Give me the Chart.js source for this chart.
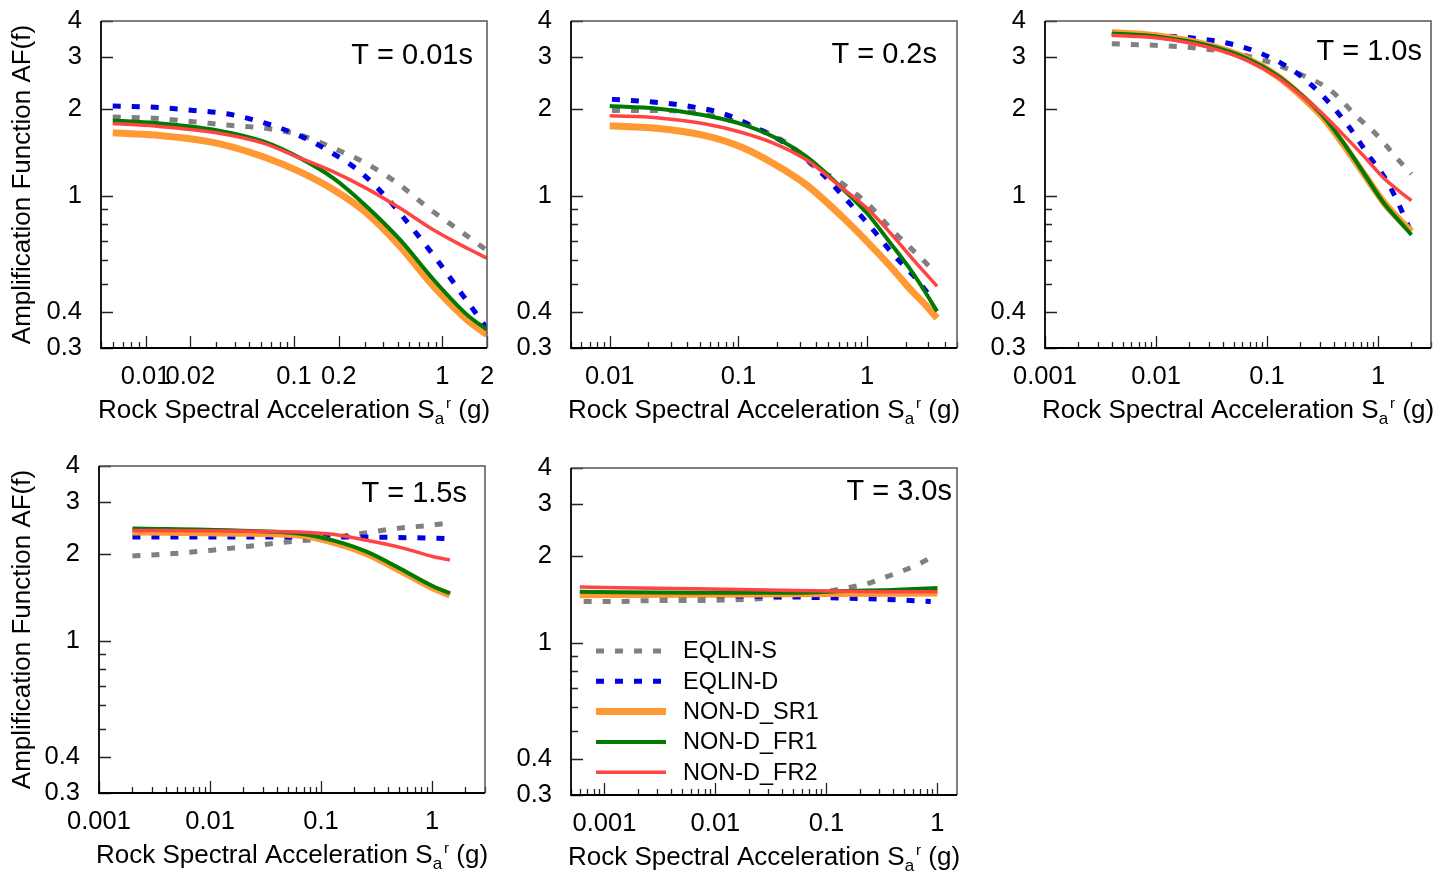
<!DOCTYPE html>
<html>
<head>
<meta charset="utf-8">
<title>Amplification functions</title>
<script src="https://cdn.jsdelivr.net/npm/chart.js@4.4.1/dist/chart.umd.min.js"></script>
<style>
  body { margin: 0; background: #fff; }
  canvas { position: absolute; }
</style>
</head>
<body>
<canvas id="p1" width="500" height="430" style="left:0;top:0"></canvas>
<canvas id="p2" width="470" height="430" style="left:500px;top:0"></canvas>
<canvas id="p3" width="483" height="430" style="left:970px;top:0"></canvas>
<canvas id="p4" width="500" height="437" style="left:0;top:440px"></canvas>
<canvas id="p5" width="470" height="437" style="left:500px;top:440px"></canvas>
<script>
// Series and tick labels
const SERIES_NAMES = ['EQLIN-S', 'EQLIN-D', 'NON-D_SR1', 'NON-D_FR1', 'NON-D_FR2'];
const Y_LABELS = [0.3, 0.4, 1, 2, 3, 4];
const X_LABELS_T001 = [0.01, 0.02, 0.1, 0.2, 1, 2];
const X_LABELS_T02 = [0.01, 0.1, 1];
const X_LABELS_LONG = [0.001, 0.01, 0.1, 1];

// [Sa rock (g), AF] pairs per period
const T001_EQLIN_S = [[0.006,1.87],[0.0116,1.85],[0.021,1.80],[0.037,1.75],[0.065,1.71],[0.11,1.62],[0.185,1.46],[0.31,1.29],[0.5,1.105],[0.81,0.907],[1.29,0.764],[2.0,0.65]];
const T001_EQLIN_D = [[0.006,2.04],[0.0116,2.02],[0.021,1.97],[0.037,1.91],[0.064,1.78],[0.11,1.61],[0.175,1.42],[0.28,1.21],[0.435,0.969],[0.64,0.764],[0.92,0.603],[1.29,0.476],[2.0,0.35]];
const T001_SR1 = [[0.006,1.65],[0.0116,1.62],[0.03,1.52],[0.062,1.364],[0.11,1.21],[0.185,1.05],[0.31,0.872],[0.52,0.67],[0.874,0.489],[1.47,0.375],[2.0,0.333]];
const T001_FR1 = [[0.006,1.82],[0.0116,1.785],[0.03,1.685],[0.062,1.54],[0.11,1.35],[0.185,1.15],[0.31,0.919],[0.52,0.706],[0.874,0.515],[1.47,0.39],[2.0,0.347]];
const T001_FR2 = [[0.006,1.775],[0.0116,1.74],[0.03,1.65],[0.062,1.52],[0.11,1.35],[0.185,1.21],[0.31,1.06],[0.52,0.907],[0.874,0.764],[1.47,0.661],[2.0,0.611]];

const T02_EQLIN_S = [[0.0104,1.97],[0.0205,1.97],[0.04,1.95],[0.0765,1.85],[0.139,1.71],[0.25,1.50],[0.4,1.25],[0.584,1.135],[1.0,0.944],[1.61,0.754],[2.68,0.606],[3.4,0.543]];
const T02_EQLIN_D = [[0.0104,2.15],[0.0205,2.11],[0.04,2.04],[0.0765,1.92],[0.139,1.71],[0.253,1.48],[0.407,1.245],[0.658,0.995],[1.06,0.785],[1.61,0.627],[2.45,0.515],[3.3,0.435]];
const T02_SR1 = [[0.01,1.744],[0.023,1.71],[0.053,1.62],[0.103,1.48],[0.187,1.294],[0.34,1.09],[0.62,0.86],[1.0,0.697],[1.52,0.572],[2.18,0.476],[2.76,0.428],[3.5,0.38]];
const T02_FR1 = [[0.01,2.04],[0.023,2.0],[0.053,1.90],[0.103,1.775],[0.187,1.60],[0.34,1.364],[0.62,1.077],[1.0,0.872],[1.52,0.688],[2.18,0.557],[2.76,0.476],[3.5,0.401]];
const T02_FR2 = [[0.01,1.887],[0.023,1.86],[0.053,1.775],[0.103,1.66],[0.187,1.52],[0.34,1.33],[0.62,1.077],[1.0,0.907],[1.52,0.745],[2.18,0.619],[3.5,0.489]];

const T10_EQLIN_S = [[0.004,3.34],[0.0095,3.30],[0.0204,3.24],[0.0435,3.13],[0.093,2.93],[0.187,2.65],[0.373,2.31],[0.65,1.87],[0.92,1.66],[1.17,1.50],[1.5,1.34],[2.0,1.19]];
const T10_EQLIN_D = [[0.004,3.62],[0.0095,3.57],[0.0204,3.5],[0.0435,3.36],[0.087,3.10],[0.18,2.67],[0.325,2.19],[0.547,1.73],[0.8,1.40],[1.21,1.12],[1.55,0.93],[2.0,0.745]];
const T10_SR1 = [[0.004,3.65],[0.01,3.56],[0.0288,3.31],[0.066,2.97],[0.123,2.59],[0.214,2.17],[0.325,1.85],[0.49,1.50],[0.747,1.19],[1.13,0.95],[1.6,0.82],[2.0,0.755]];
const T10_FR1 = [[0.004,3.62],[0.01,3.54],[0.0288,3.30],[0.066,2.97],[0.123,2.60],[0.214,2.19],[0.325,1.87],[0.49,1.52],[0.747,1.196],[1.13,0.944],[1.6,0.81],[2.0,0.735]];
const T10_FR2 = [[0.004,3.57],[0.01,3.5],[0.0288,3.26],[0.066,2.93],[0.123,2.57],[0.214,2.18],[0.325,1.90],[0.49,1.62],[0.747,1.37],[1.13,1.15],[1.6,1.03],[2.0,0.964]];

const T15_EQLIN_S = [[0.002,1.96],[0.0047,2.0],[0.01,2.05],[0.0228,2.12],[0.049,2.19],[0.105,2.25],[0.224,2.34],[0.48,2.44],[0.96,2.50],[1.45,2.55]];
const T15_EQLIN_D = [[0.002,2.28],[0.1,2.28],[0.5,2.27],[1.45,2.25]];
const T15_SR1 = [[0.002,2.37],[0.017,2.35],[0.065,2.31],[0.128,2.19],[0.257,2.0],[0.514,1.75],[1.03,1.52],[1.45,1.44]];
const T15_FR1 = [[0.002,2.44],[0.017,2.40],[0.065,2.34],[0.128,2.22],[0.257,2.03],[0.514,1.775],[1.03,1.54],[1.45,1.46]];
const T15_FR2 = [[0.002,2.40],[0.017,2.39],[0.065,2.37],[0.128,2.33],[0.257,2.22],[0.514,2.10],[1.03,1.95],[1.45,1.90]];

const T30_EQLIN_S = [[0.00065,1.39],[0.0013,1.39],[0.003,1.40],[0.0065,1.40],[0.0156,1.41],[0.0335,1.43],[0.072,1.47],[0.154,1.55],[0.233,1.60],[0.34,1.685],[0.483,1.77],[0.68,1.87],[0.965,2.01]];
const T30_EQLIN_D = [[0.00065,1.46],[0.01,1.455],[0.051,1.44],[0.109,1.43],[0.25,1.42],[0.574,1.40],[0.87,1.39]];
const T30_SR1 = [[0.0006,1.466],[0.0065,1.47],[0.109,1.48],[1.0,1.485]];
const T30_FR1 = [[0.0006,1.50],[0.0065,1.49],[0.051,1.49],[0.154,1.51],[0.34,1.52],[1.0,1.545]];
const T30_FR2 = [[0.0006,1.557],[0.0065,1.536],[0.051,1.516],[0.109,1.51],[0.34,1.50],[1.0,1.50]];

const FONT = '"Liberation Sans", Arial, sans-serif';

// Line styles, in legend order
const LINE_STYLES = [
    { color: '#808080', width: 5, dash: [8, 11], order: 5 },
    { color: '#0000e0', width: 5, dash: [8, 11], order: 4 },
    { color: '#ff9933', width: 7, dash: [], order: 3 },
    { color: '#007a00', width: 4, dash: [], order: 2 },
    { color: '#ff4444', width: 3.5, dash: [], order: 1 }
];

const panels = [
    { id: 'p1', tag: 'T = 0.01s', xMin: 0.005, xMax: 2, xLabels: X_LABELS_T001,
      series: [T001_EQLIN_S, T001_EQLIN_D, T001_SR1, T001_FR1, T001_FR2],
      yWidth: 101, padTop: 21, padRight: 13, xHeight: 82, yTitle: true, tagDx: 14, tagDy: 35 },
    { id: 'p2', tag: 'T = 0.2s', xMin: 0.005, xMax: 5, xLabels: X_LABELS_T02,
      series: [T02_EQLIN_S, T02_EQLIN_D, T02_SR1, T02_FR1, T02_FR2],
      yWidth: 71, padTop: 21, padRight: 13, xHeight: 82, yTitle: false, tagDx: 20, tagDy: 34 },
    { id: 'p3', tag: 'T = 1.0s', xMin: 0.001, xMax: 3, xLabels: X_LABELS_LONG,
      series: [T10_EQLIN_S, T10_EQLIN_D, T10_SR1, T10_FR1, T10_FR2],
      yWidth: 75, padTop: 21, padRight: 22, xHeight: 82, yTitle: false, tagDx: 9, tagDy: 31 },
    { id: 'p4', tag: 'T = 1.5s', xMin: 0.001, xMax: 3, xLabels: X_LABELS_LONG,
      series: [T15_EQLIN_S, T15_EQLIN_D, T15_SR1, T15_FR1, T15_FR2],
      yWidth: 99, padTop: 26, padRight: 15, xHeight: 84, yTitle: true, tagDx: 18, tagDy: 28 },
    { id: 'p5', tag: 'T = 3.0s', xMin: 0.0005, xMax: 1.5, xLabels: X_LABELS_LONG,
      series: [T30_EQLIN_S, T30_EQLIN_D, T30_SR1, T30_FR1, T30_FR2],
      yWidth: 71, padTop: 28, padRight: 13, xHeight: 82, yTitle: false, tagDx: 5, tagDy: 24, legend: true }
];

// Every 1..9 x 10^n value inside [min, max]
function logTicks(min, max) {
    const out = [];
    for (let e = Math.floor(Math.log10(min)); e <= Math.ceil(Math.log10(max)); e++) {
        for (let k = 1; k < 10; k++) {
            const v = +(k * Math.pow(10, e)).toPrecision(6);
            if (v >= min * 0.999 && v <= max * 1.001) out.push(v);
        }
    }
    return out;
}

// Box frame plus inward tick marks
const axisFrame = {
    id: 'axisFrame',
    afterDraw(chart, args, opts) {
        const { ctx, chartArea: a, scales: { x, y } } = chart;
        ctx.save();
        ctx.strokeStyle = '#222';
        ctx.lineWidth = 1.3;
        ctx.beginPath();
        logTicks(opts.xMin, opts.xMax).forEach(v => {
            const px = Math.round(x.getPixelForValue(v)) + 0.5;
            const len = opts.xMajor.includes(v) ? 12 : 6;
            ctx.moveTo(px, a.bottom);
            ctx.lineTo(px, a.bottom - len);
        });
        logTicks(0.3, 4).forEach(v => {
            const py = Math.round(y.getPixelForValue(v)) + 0.5;
            const len = Y_LABELS.includes(v) ? 12 : 7;
            ctx.moveTo(a.left, py);
            ctx.lineTo(a.left + len, py);
        });
        ctx.stroke();

        ctx.strokeStyle = '#555';
        ctx.lineWidth = 1.5;
        ctx.beginPath();
        ctx.moveTo(a.left, a.top);
        ctx.lineTo(a.right, a.top);
        ctx.lineTo(a.right, a.bottom);
        ctx.stroke();

        ctx.strokeStyle = '#000';
        ctx.lineWidth = 1.8;
        ctx.beginPath();
        ctx.moveTo(a.left, a.top);
        ctx.lineTo(a.left, a.bottom);
        ctx.lineTo(a.right, a.bottom);
        ctx.stroke();
        ctx.restore();
    }
};

// x-axis title with subscript a and superscript r
const xTitle = {
    id: 'xTitle',
    afterDraw(chart) {
        const { ctx, chartArea: a } = chart;
        const parts = [
            { text: 'Rock Spectral Acceleration S', size: 26, dy: 0 },
            { text: 'a', size: 17, dy: 6 },
            { text: 'r', size: 15, dy: -10 },
            { text: ' (g)', size: 26, dy: 0 }
        ];
        ctx.save();
        ctx.fillStyle = '#000';
        ctx.textBaseline = 'alphabetic';
        ctx.textAlign = 'left';
        let total = 0;
        parts.forEach(p => {
            ctx.font = p.size + 'px ' + FONT;
            p.w = ctx.measureText(p.text).width;
            total += p.w;
        });
        total += 2;
        let cx = (a.left + a.right) / 2 - total / 2;
        const base = a.bottom + 61 + 9;
        parts.forEach((p, i) => {
            ctx.font = p.size + 'px ' + FONT;
            ctx.fillText(p.text, cx, base + p.dy);
            cx += p.w + (i === 1 ? 2 : 0);
        });
        ctx.restore();
    }
};

// Period tag in the upper right corner
const periodTag = {
    id: 'periodTag',
    afterDraw(chart, args, opts) {
        const { ctx, chartArea: a } = chart;
        ctx.save();
        ctx.font = '29px ' + FONT;
        ctx.fillStyle = '#000';
        ctx.textAlign = 'right';
        ctx.textBaseline = 'middle';
        ctx.fillText(opts.text, a.right - opts.dx, a.top + opts.dy);
        ctx.restore();
    }
};

// Legend drawn inside the plot area
const insetLegend = {
    id: 'insetLegend',
    afterDraw(chart, args, opts) {
        if (!opts.show) return;
        const { ctx, chartArea: a } = chart;
        ctx.save();
        ctx.font = '23.5px ' + FONT;
        ctx.textBaseline = 'middle';
        ctx.textAlign = 'left';
        chart.data.datasets.forEach((ds, i) => {
            const yy = a.top + 183 + i * 30.3;
            ctx.strokeStyle = ds.borderColor;
            ctx.lineWidth = ds.borderWidth;
            ctx.setLineDash(ds.borderDash);
            ctx.beginPath();
            ctx.moveTo(a.left + 25, yy);
            ctx.lineTo(a.left + 95, yy);
            ctx.stroke();
            ctx.setLineDash([]);
            ctx.fillStyle = '#000';
            ctx.fillText(ds.label, a.left + 112, yy + 1);
        });
        ctx.restore();
    }
};

function makePanel(p) {
    const datasets = p.series.map((pts, i) => ({
        label: SERIES_NAMES[i],
        data: pts.map(([x, y]) => ({ x, y })),
        borderColor: LINE_STYLES[i].color,
        borderWidth: LINE_STYLES[i].width,
        borderDash: LINE_STYLES[i].dash,
        borderCapStyle: 'butt',
        order: LINE_STYLES[i].order,
        pointRadius: 0,
        fill: false,
        cubicInterpolationMode: 'monotone'
    }));

    return new Chart(document.getElementById(p.id), {
        type: 'line',
        data: { datasets },
        options: {
            responsive: false,
            animation: false,
            events: [],
            layout: { padding: { top: p.padTop, right: p.padRight, left: 0, bottom: 0 } },
            plugins: {
                legend: { display: false },
                tooltip: { enabled: false },
                axisFrame: { xMin: p.xMin, xMax: p.xMax, xMajor: p.xLabels },
                periodTag: { text: p.tag, dx: p.tagDx, dy: p.tagDy },
                insetLegend: { show: !!p.legend }
            },
            scales: {
                x: {
                    type: 'logarithmic',
                    min: p.xMin,
                    max: p.xMax,
                    afterBuildTicks: s => { s.ticks = p.xLabels.map(v => ({ value: v })); },
                    afterFit: s => { s.height = p.xHeight; s.paddingLeft = 0; s.paddingRight = 0; },
                    ticks: {
                        autoSkip: false,
                        maxRotation: 0,
                        padding: 14,
                        color: '#000',
                        font: { family: FONT, size: 25.5 },
                        callback: v => String(v)
                    },
                    grid: { display: false, drawTicks: false },
                    border: { display: false }
                },
                y: {
                    type: 'logarithmic',
                    min: 0.3,
                    max: 4,
                    afterBuildTicks: s => { s.ticks = Y_LABELS.map(v => ({ value: v })); },
                    afterFit: s => { s.width = p.yWidth; s.paddingTop = 0; s.paddingBottom = 0; },
                    ticks: {
                        autoSkip: false,
                        padding: 19,
                        color: '#000',
                        font: { family: FONT, size: 25.5 },
                        callback: v => String(v)
                    },
                    grid: { display: false, drawTicks: false },
                    border: { display: false },
                    title: {
                        display: p.yTitle,
                        text: 'Amplification Function AF(f)',
                        color: '#000',
                        font: { family: FONT, size: 26 },
                        padding: { top: 7, bottom: 0 }
                    }
                }
            }
        },
        plugins: [axisFrame, xTitle, periodTag, insetLegend]
    });
}

panels.forEach(makePanel);
</script>
</body>
</html>
